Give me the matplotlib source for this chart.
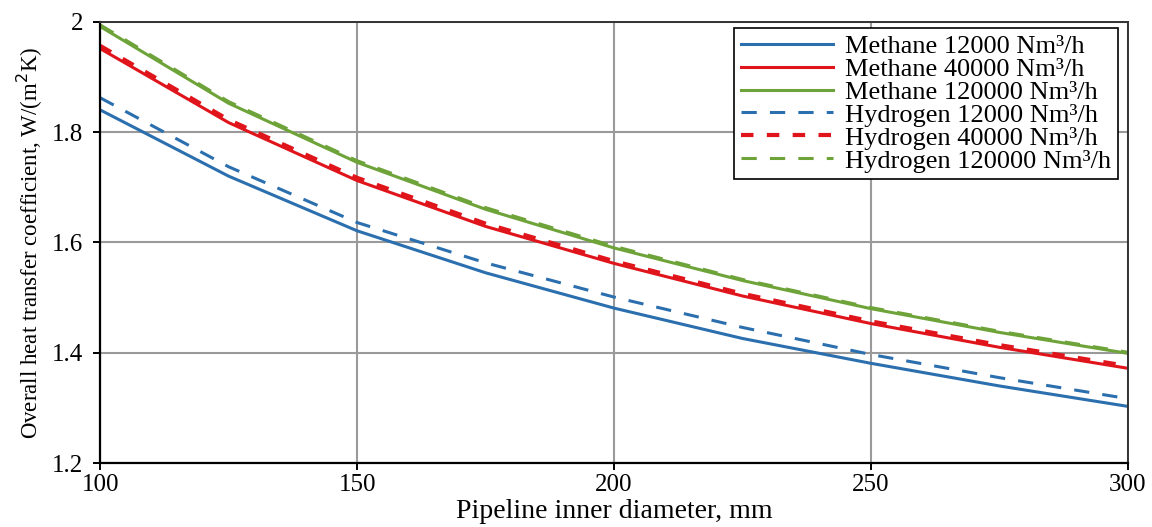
import matplotlib.pyplot as plt
import numpy as np

# pipeline inner diameter, mm
diameter = [100, 125, 150, 175, 200, 225, 250, 275, 300]

# overall heat transfer coefficient, W/(m2K)
methane_12000 = [1.840, 1.720, 1.621, 1.545, 1.481, 1.426, 1.381, 1.340, 1.303]
methane_40000 = [1.951, 1.817, 1.712, 1.629, 1.562, 1.503, 1.453, 1.410, 1.372]
methane_120000 = [1.991, 1.852, 1.745, 1.660, 1.590, 1.531, 1.480, 1.437, 1.399]
hydrogen_12000 = [1.862, 1.737, 1.636, 1.563, 1.501, 1.446, 1.397, 1.355, 1.317]
hydrogen_40000 = [1.956, 1.822, 1.717, 1.634, 1.566, 1.507, 1.457, 1.414, 1.376]
hydrogen_120000 = [1.994, 1.855, 1.748, 1.663, 1.593, 1.533, 1.482, 1.439, 1.401]

x_ticks = [100, 150, 200, 250, 300]
y_ticks = [1.2, 1.4, 1.6, 1.8, 2.0]
y_tick_labels = ['1.2', '1.4', '1.6', '1.8', '2']

labels = ["Methane 12000 Nm³/h", "Methane 40000 Nm³/h", "Methane 120000 Nm³/h",
          "Hydrogen 12000 Nm³/h", "Hydrogen 40000 Nm³/h", "Hydrogen 120000 Nm³/h"]

blue = '#2b6fae'
red = '#e0151b'
green = '#6ea33a'

plt.rcParams['font.family'] = ['Liberation Serif', 'DejaVu Serif']

fig = plt.figure(figsize=(11.52, 5.27), dpi=100)
ax = fig.add_axes([0.087, 0.121, 0.892, 0.838])

ax.plot(diameter, methane_12000, color=blue, lw=2.2, label=labels[0])
ax.plot(diameter, methane_40000, color=red, lw=2.2, label=labels[1])
ax.plot(diameter, methane_120000, color=green, lw=2.2, label=labels[2])
ax.plot(diameter, hydrogen_12000, color=blue, lw=2.2, ls=(0, (5, 4.3)), label=labels[3])
ax.plot(diameter, hydrogen_40000, color=red, lw=3, ls=(0, (3, 3.2)), label=labels[4])
ax.plot(diameter, hydrogen_120000, color=green, lw=2.2, ls=(0, (5, 4.3)), label=labels[5])

ax.set_xlim(100, 300)
ax.set_ylim(1.2, 2.0)
ax.set_xticks(x_ticks)
ax.set_xticklabels([str(v) for v in x_ticks], fontsize=18)
ax.set_yticks(y_ticks)
ax.set_yticklabels(y_tick_labels, fontsize=18)
ax.grid(True, color='#9a9a9a', lw=1.5)
ax.set_axisbelow(True)

for side in ['left', 'bottom']:
    ax.spines[side].set_color('black')
    ax.spines[side].set_linewidth(1.6)
for side in ['top', 'right']:
    ax.spines[side].set_color('#333333')
    ax.spines[side].set_linewidth(1.4)

ax.tick_params(direction='out', length=5, width=1.4)
ax.tick_params(axis='x', pad=3)
ax.tick_params(axis='y', pad=7)

ax.set_xlabel("Pipeline inner diameter, mm", fontsize=20, labelpad=2)
ax.set_ylabel("Overall heat transfer coefficient, W/(m$^2$K)", fontsize=16.5, labelpad=5)

leg = ax.legend(loc='upper right', bbox_to_anchor=(0.99, 0.986), fontsize=19,
                frameon=True, fancybox=False, framealpha=1, edgecolor='black',
                handlelength=3.5, handletextpad=0.45, labelspacing=-0.02,
                borderpad=0.25, borderaxespad=0)
leg.get_frame().set_linewidth(1.2)

plt.savefig("out.png", dpi=100)
